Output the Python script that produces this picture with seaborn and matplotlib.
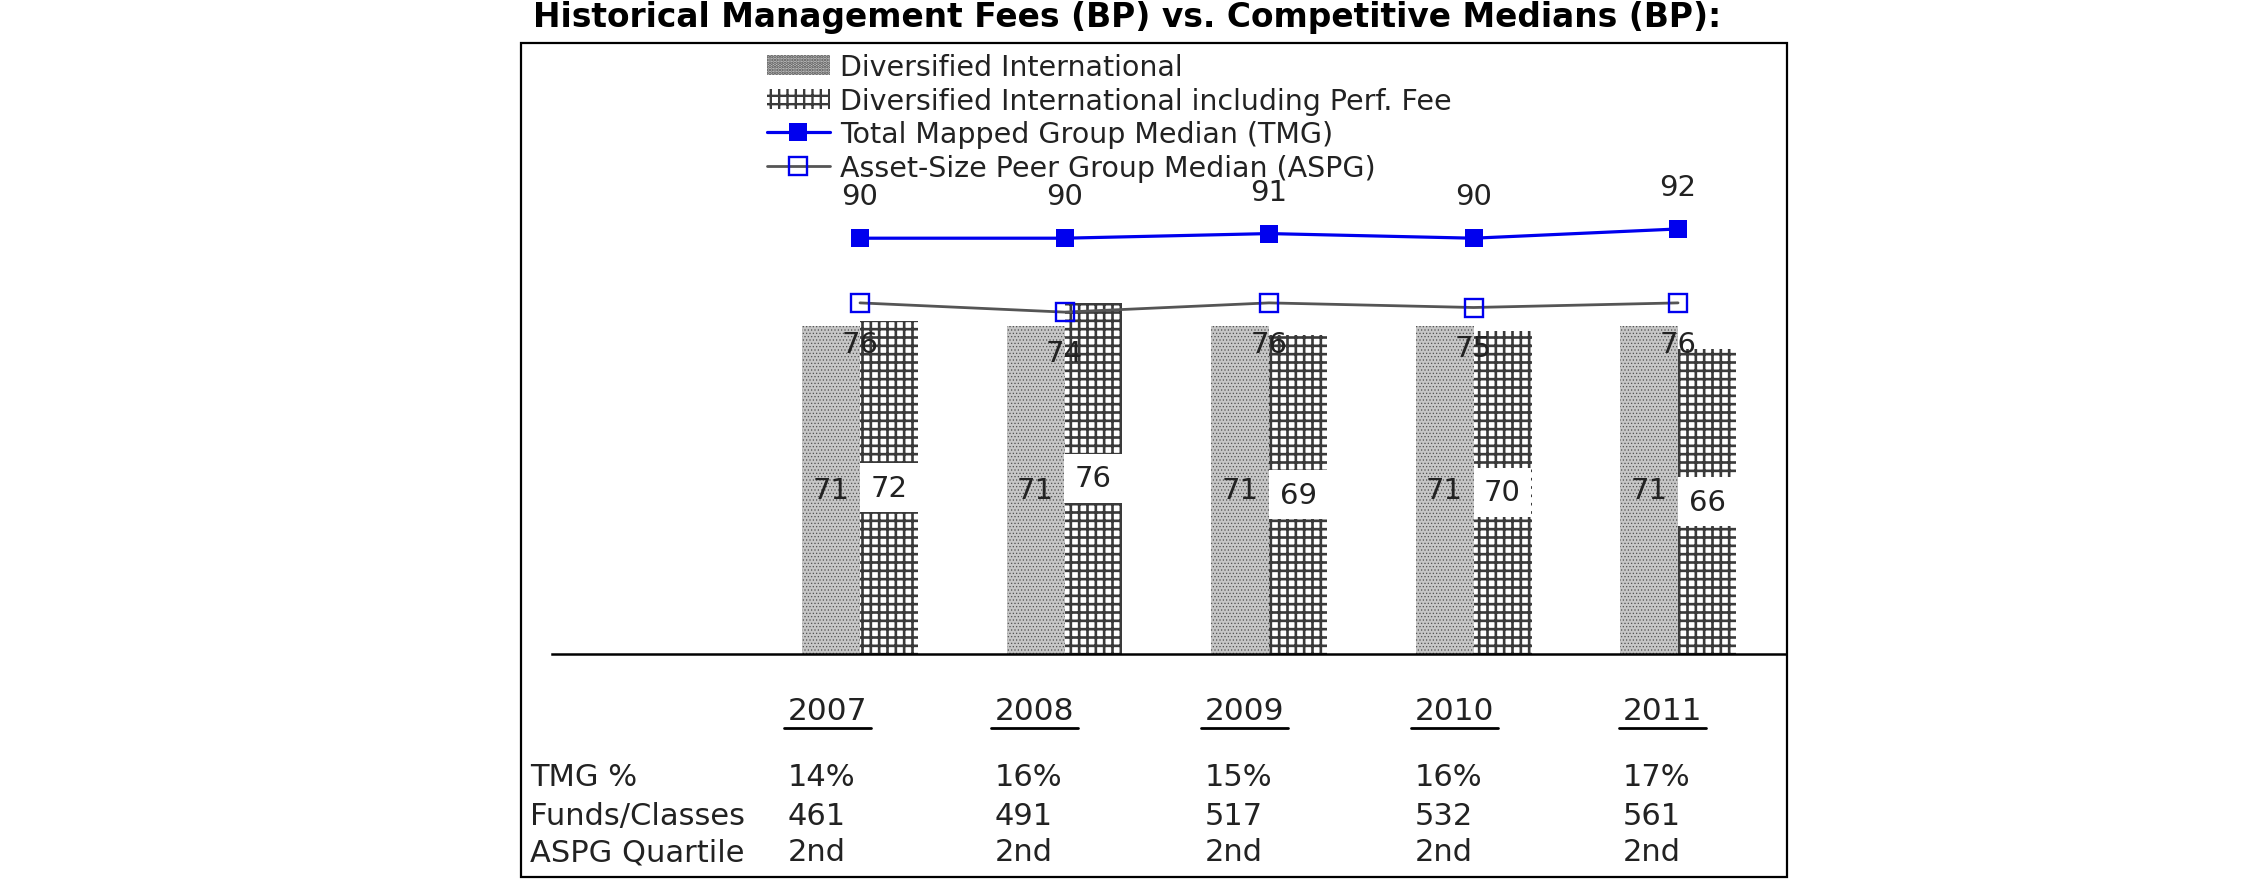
import numpy as np
import pandas as pd
import matplotlib
matplotlib.use("Agg")
import matplotlib.pyplot as plt
import seaborn as sns
from matplotlib.lines import Line2D
from matplotlib.patches import Rectangle

# ---------------- data ----------------
years = ["2007", "2008", "2009", "2010", "2011"]
div_intl = [71, 71, 71, 71, 71]
div_intl_perf = [72, 76, 69, 70, 66]
tmg_median = [90, 90, 91, 90, 92]
aspg_median = [76, 74, 76, 75, 76]
tmg_pct = ["14%", "16%", "15%", "16%", "17%"]
funds_classes = ["461", "491", "517", "532", "561"]
aspg_quartile = ["2nd", "2nd", "2nd", "2nd", "2nd"]
row_labels = ["TMG %", "Funds/Classes", "ASPG Quartile"]
series_names = ["Diversified International",
                "Diversified International including Perf. Fee"]
line_names = ["Total Mapped Group Median (TMG)",
              "Asset-Size Peer Group Median (ASPG)"]
title = "Historical Management Fees (BP) vs. Competitive Medians (BP):"

# ---------------- style ----------------
sns.set_style("white")
plt.rcParams["font.family"] = ["DejaVu Sans"]
plt.rcParams["hatch.linewidth"] = 1.7
TXT = "#222222"

W, H = 2250, 895
fig = plt.figure(figsize=(22.5, 8.95), dpi=100)
fig.patch.set_facecolor("white")


def fx(px):
    return px / W


def fy(py):
    return 1 - py / H


ax_left, ax_right, ax_bottom, ax_top = 552, 1785, 655, 44
ax = fig.add_axes([fx(ax_left), fy(ax_bottom),
                   (ax_right - ax_left) / W, (ax_bottom - ax_top) / H])

bars = pd.DataFrame({
    "Year": years * 2,
    "Fee": div_intl + div_intl_perf,
    "Series": [series_names[0]] * len(years) + [series_names[1]] * len(years),
})
sns.barplot(data=bars, x="Year", y="Fee", hue="Series", order=years,
            hue_order=series_names, width=0.567, ax=ax, legend=False,
            linewidth=0, saturation=1, palette=["#c8c8c8", "white"])
bar_containers = list(ax.containers)

for p in bar_containers[0].patches:
    p.set_facecolor("#c6c6c6")
    p.set_edgecolor("#505050")
    p.set_hatch(".....")
    p.set_linewidth(0)
    if hasattr(p, "set_hatch_linewidth"):
        p.set_hatch_linewidth(0.5)
for p in bar_containers[1].patches:
    p.set_facecolor("white")
    p.set_edgecolor("#3a3a3a")
    p.set_hatch("++")
    p.set_linewidth(0)
    if hasattr(p, "set_hatch_linewidth"):
        p.set_hatch_linewidth(1.9)

n0 = len(ax.lines)
sns.pointplot(x=years, y=tmg_median, order=years, color="#0000ee",
              markers="s", linestyles="-", errorbar=None, ax=ax,
              linewidth=2.3, markersize=13)
tmg_line = ax.lines[n0]
n1 = len(ax.lines)
sns.pointplot(x=years, y=aspg_median, order=years, color="#555555",
              markers="s", linestyles="-", errorbar=None, ax=ax,
              linewidth=2.0, markersize=12.5)
aspg_line = ax.lines[n1]
aspg_line.set_markeredgecolor("#0000ee")
aspg_line.set_markerfacecolor("none")
aspg_line.set_markeredgewidth(1.7)
tmg_line.set_markeredgewidth(0)
tmg_line.set_zorder(5)
aspg_line.set_zorder(5)

ax.set_xlim(-1.506, 4.523)
ax.set_ylim(0, (ax_bottom - ax_top) / 4.62)

# bar value labels
ax.bar_label(bar_containers[0], labels=[str(v) for v in div_intl],
             label_type="center", fontsize=21, color=TXT)
ax.bar_label(bar_containers[1], labels=[str(v) for v in div_intl_perf],
             label_type="center", fontsize=21, color=TXT,
             bbox=dict(boxstyle="square,pad=0.36", fc="white", ec="none"))

# line value labels
for i, v in enumerate(tmg_median):
    ax.annotate(str(v), (i, v), xytext=(0, 42), textcoords="offset pixels",
                ha="center", va="center", fontsize=21, color=TXT, zorder=6)
for i, v in enumerate(aspg_median):
    ax.annotate(str(v), (i, v), xytext=(0, -41), textcoords="offset pixels",
                ha="center", va="center", fontsize=21, color=TXT, zorder=6)

# axes cosmetics
for s in ["left", "top", "right"]:
    ax.spines[s].set_visible(False)
ax.spines["bottom"].set_color("black")
ax.spines["bottom"].set_linewidth(1.8)
ax.set_xticks([])
ax.set_yticks([])
ax.set_xlabel("")
ax.set_ylabel("")

# legend
handles = [bar_containers[0].patches[0], bar_containers[1].patches[0],
           tmg_line, aspg_line]
leg = ax.legend(handles, series_names + line_names, loc="upper left",
                bbox_to_anchor=(fx(767), fy(54)),
                bbox_transform=fig.transFigure, frameon=False,
                fontsize=20.5, labelspacing=0.2, handlelength=2.2,
                handletextpad=0.36, borderpad=0, borderaxespad=0,
                handleheight=0.7, numpoints=1)
for t in leg.get_texts():
    t.set_color(TXT)

# outer frame and title
fig.add_artist(Rectangle((fx(521), fy(878)), (1787 - 521) / W, (878 - 44) / H,
                         transform=fig.transFigure, fill=False, lw=1.6,
                         ec="black"))
fig.text(fx(533), fy(18), title, fontsize=23.7, fontweight="bold",
         ha="left", va="center", color="black")

# table under the chart
col_x = [788, 995, 1205, 1415, 1623]
year_texts = []
for x, yr in zip(col_x, years):
    year_texts.append(fig.text(fx(x), fy(712), yr, fontsize=22.5, ha="left",
                               va="center", color=TXT))
row_y = [778, 817, 853]
rows = [tmg_pct, funds_classes, aspg_quartile]
for lab, yy, vals in zip(row_labels, row_y, rows):
    fig.text(fx(530), fy(yy), lab, fontsize=22, ha="left", va="center",
             color=TXT)
    for x, v in zip(col_x, vals):
        fig.text(fx(x), fy(yy), v, fontsize=22, ha="left", va="center",
                 color=TXT)

fig.canvas.draw()
for t in year_texts:
    bb = t.get_window_extent()
    fig.add_artist(Line2D([(bb.x0 - 4) / W, (bb.x1 + 3) / W],
                          [fy(729), fy(729)], transform=fig.transFigure,
                          color="black", lw=2.0))

fig.savefig("out.png", dpi=100)
